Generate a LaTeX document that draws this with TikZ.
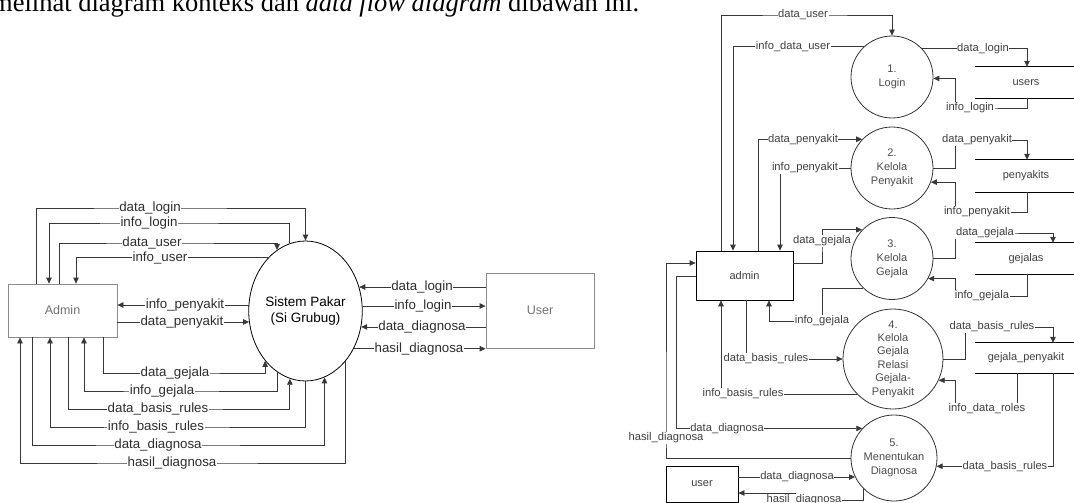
\documentclass[tikz,border=0pt]{standalone}
\usepackage{fontspec}
\setmainfont{Liberation Serif}
\setsansfont{Liberation Sans}
\usetikzlibrary{arrows.meta,shapes.geometric}
\begin{document}
\begin{tikzpicture}[x=1pt,y=-1pt,
  ln/.style={draw=black!78,line width=0.8pt},
  fl/.style={ln,-{Triangle[length=6pt,width=5.5pt]}},
  lblL/.style={fill=white,inner sep=0.6pt,text=black!82,font=\sffamily\fontsize{13.3}{14}\selectfont},
  lblR/.style={fill=white,inner sep=0.6pt,text=black!75,font=\sffamily\fontsize{11.2}{12}\selectfont},
  boxL/.style={draw=black!45,line width=0.8pt,text=black!55,font=\sffamily\fontsize{12.5}{13}\selectfont,inner sep=0},
  ell/.style={ellipse,draw=black,line width=0.8pt,inner sep=0,minimum width=107pt,minimum height=140pt,align=center,font=\sffamily\fontsize{13.5}{16}\selectfont},
  boxR/.style={draw=black,line width=0.8pt,text=black!75,inner sep=0,font=\sffamily\fontsize{11}{12}\selectfont},
  proc/.style={circle,draw=black!80,line width=0.8pt,inner sep=0,align=center,text=black!70,font=\sffamily\fontsize{11}{14}\selectfont},
  store/.style={inner sep=0,minimum width=102pt,text=black!75,font=\sffamily\fontsize{11}{12}\selectfont},
  stline/.style={draw=black,line width=0.9pt}
]
\useasboundingbox (0,0) rectangle (1074,503);
\clip (0,0) rectangle (1074,503);

% heading (cut off at the top)
\node[anchor=base west,inner sep=0,font=\fontsize{26.5}{28}\selectfont] (intro) at (-8,12)
  {melihat diagram konteks dan \textit{data flow diagram} dibawah ini.};

% ---------------- context diagram ----------------
\node[boxL,minimum width=109pt,minimum height=53pt] (adminL) at (62.5,310.5) {Admin};
\node[boxL,minimum width=108pt,minimum height=75pt] (userL) at (540,310.5) {User};
\node[ell] (sys) at (305.5,311) {Sistem Pakar\\(Si Grubug)};

\draw[fl] (adminL.north -| 36,0) -- (36,208) -- (150,208) node[lblL]{data\_login} -| (sys.north);
\draw[fl] (sys.103.9) |- (149,223) node[lblL]{info\_login} -| (adminL.north -| 49,0);
\draw[fl] (adminL.north -| 59,0) -- (59,243) -- (152,243) node[lblL]{data\_user} -| (sys.115.7);
\draw[fl] (sys.125.7) -- (160,0 |- sys.125.7) node[lblL]{info\_user} -| (adminL.north -| 76,0);
\draw[fl] (sys.174.6) -- (185,0 |- sys.174.6) node[lblL]{info\_penyakit} -- (adminL.east |- sys.174.6);
\draw[fl] (adminL.east |- sys.191.8) -- (182,0 |- sys.191.8) node[lblL]{data\_penyakit} -- (sys.191.8);
\draw[fl] (adminL.south -| 103,0) -- (103,373) -- (175,373) node[lblL]{data\_gejala} -| (sys.231.6);
\draw[fl] (sys.245.4) |- (162,391) node[lblL]{info\_gejala} -| (adminL.south -| 84,0);
\draw[fl] (adminL.south -| 68,0) -- (68,409) -- (158,409) node[lblL]{data\_basis\_rules} -| (sys.257.9);
\draw[fl] (sys.south) |- (156,427) node[lblL]{info\_basis\_rules} -| (adminL.south -| 50,0);
\draw[fl] (adminL.south -| 32,0) -- (32,445) -- (158,445) node[lblL]{data\_diagnosa} -| (sys.286.7);
\draw[fl] (sys.309.9) |- (172,463) node[lblL]{hasil\_diagnosa} -| (adminL.south -| 20,0);

\draw[fl] (userL.west |- sys.24.5) -- (422,0 |- sys.24.5) node[lblL]{data\_login} -- (sys.24.5);
\draw[fl] (sys.5.4) -- (423,0 |- sys.5.4) node[lblL]{info\_login} -- (userL.west |- sys.5.4);
\draw[fl] (userL.west |- sys.344) -- (422,0 |- sys.344) node[lblL]{data\_diagnosa} -- (sys.344);
\draw[fl] (sys.322.9) -- (419,0 |- sys.322.9) node[lblL]{hasil\_diagnosa} -- (userL.west |- sys.322.9);

% ---------------- data flow diagram ----------------
\node[boxR,minimum width=97pt,minimum height=49pt] (adminR) at (744.5,275.5) {admin};
\node[boxR,minimum width=72pt,minimum height=36pt] (userR) at (702,484) {user};

\node[proc,minimum size=82pt] (c1) at (892,77) {1.\\Login};
\node[proc,minimum size=82pt] (c2) at (892,168) {2.\\Kelola\\Penyakit};
\node[proc,minimum size=82pt] (c3) at (892,258.5) {3.\\Kelola\\Gejala};
\node[proc,minimum size=100pt,font=\sffamily\fontsize{11}{13.4}\selectfont] (c4) at (893,359) {4.\\Kelola\\Gejala\\Relasi\\Gejala-\\Penyakit};
\node[proc,minimum size=86pt] (c5) at (894,458) {5.\\Menentukan\\Diagnosa};

\node[store,minimum height=31pt] (stU) at (1026,82.5) {users};
\node[store,minimum height=32pt] (stP) at (1026,176) {penyakits};
\node[store,minimum height=31pt] (stG) at (1026,258.5) {gejalas};
\node[store,minimum height=30pt] (stGP) at (1026,358) {gejala\_penyakit};
\foreach \s in {stU,stP,stG,stGP}
  \draw[stline] (\s.north west) -- (\s.north east) (\s.south west) -- (\s.south east);

% admin <-> processes
\draw[fl] (adminR.north -| 721,0) -- (721,15) -- (803,15) node[lblR]{data\_user} -| (c1.north);
\draw[fl] (c1.132.9) -- (793,0 |- c1.132.9) node[lblR]{info\_data\_user} -| (adminR.north -| 733,0);
\draw[fl] (adminR.north -| 758,0) |- (803,0 |- c2.136.9) node[lblR]{data\_penyakit} -- (c2.136.9);
\draw[fl] (c2.west) -- (805,0 |- c2.west) node[lblR]{info\_penyakit} -| (adminR.north -| 780,0);
\draw[fl] (adminR.east |- 0,263) -| (822,241) node[lblR]{data\_gejala} |- (c3.136);
\draw[fl] (c3.226) -| (822,321) node[lblR]{info\_gejala} -| (adminR.south -| 769,0);
\draw[fl] (adminR.south -| 746,0) |- (766,0 |- c4.west) node[lblR]{data\_basis\_rules} -- (c4.west);
\draw[fl] (c4.224.4) -- (743,0 |- c4.224.4) node[lblR]{info\_basis\_rules} -| (adminR.south -| 721,0);
\draw[fl] (adminR.west |- 0,276) -| (676,0 |- c5.137.5) -- (727,0 |- c5.137.5) node[lblR]{data\_diagnosa} -- (c5.137.5);
\draw[fl] (c5.west) -| (666,438) node[lblR]{hasil\_diagnosa} |- (adminR.west |- 0,263);
\draw[fl] (userR.east |- c5.206.2) -- (797,0 |- c5.206.2) node[lblR]{data\_diagnosa} -- (c5.206.2);
\draw[fl] (c5.225.8) |- (804,500) node[lblR]{hasil\_diagnosa} -- (795,500) |- (userR.east |- 0,493);

% processes <-> data stores
\draw[fl] (c1.43.1) -- (983,0 |- c1.43.1) node[lblR]{data\_login} -| (stU.north -| 1027,0);
\draw[fl] (stU.south -| 1027,0) |- (970,108) node[lblR]{info\_login} -| (955,0 |- c1.358.6) -- (c1.358.6);
\draw[fl] (c2.east) -| (955,140) -- (977,140) node[lblR]{data\_penyakit} -| (stP.north -| 1027,0);
\draw[fl] (stP.south -| 1027,0) |- (977,212) node[lblR]{info\_penyakit} -| (955,0 |- c2.340) -- (c2.340);
\draw[fl] (c3.east) -| (955,233) -- (985,233) node[lblR]{data\_gejala} -| (stG.north -| 1053,0);
\draw[fl] (stG.south -| 1027,0) |- (982,296) node[lblR]{info\_gejala} -| (955,0 |- c3.331.6) -- (c3.331.6);
\draw[fl] (c4.east) -| (965,327) -- (992,327) node[lblR]{data\_basis\_rules} -| (stGP.north -| 1053,0);
\draw[fl] (stGP.south -| 1017,0) |- (987,409) node[lblR]{info\_data\_roles} -| (955,0 |- c4.335.2) -- (c4.335.2);
\draw[fl] (stGP.south -| 1053,0) |- (1005,0 |- c5.349.3) node[lblR]{data\_basis\_rules} -- (c5.349.3);
\end{tikzpicture}
\end{document}
